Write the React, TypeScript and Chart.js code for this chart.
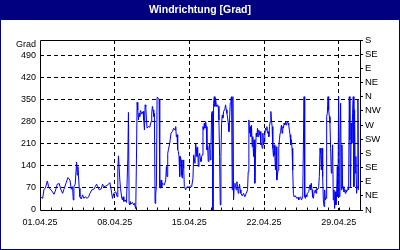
import { useEffect, useRef } from 'react';
import { Chart, registerables } from 'chart.js';

Chart.register(...registerables);

const TITLE = 'Windrichtung [Grad]';
const Y_UNIT = 'Grad';
const FONT = 'Liberation Sans';

const degreeTicks = [0, 70, 140, 210, 280, 350, 420, 490];
const Y_MAX = 540;
const compassTicks = [0, 45, 90, 135, 180, 225, 270, 315, 360, 405, 450, 495, 540];
const compassLabels = ['N', 'NE', 'E', 'SE', 'S', 'SW', 'W', 'NW', 'N', 'NE', 'E', 'SE', 'S'];
const dateTickHours = [0, 168, 336, 504, 672];
const dateTickLabels = ['01.04.25', '08.04.25', '15.04.25', '22.04.25', '29.04.25'];
const X_MAX_HOURS = 720;

// [hours since 01.04.25 00:00, wind direction in degrees]
const week1: [number, number][] = [
  [0, 42], [6, 37], [9, 66], [12, 69], [16.5, 92], [19.5, 74], [22.5, 67], [27, 60], [31.4, 50], [34.4, 60],
  [38.9, 82], [43.4, 84], [46.4, 67], [50.9, 53], [53.9, 66], [58.4, 85], [62.9, 103], [67.4, 95], [70.4, 66], [73.3, 74],
  [74.8, 32], [76.3, 74], [79.3, 82], [82.3, 152], [83.8, 111], [85.3, 138], [88.3, 69], [89.8, 42], [92.8, 35], [95.8, 48],
  [98.8, 37], [101.8, 42], [106.3, 37], [109.3, 42], [112.3, 53], [116.8, 64], [121.2, 66], [124.2, 74], [127.2, 82], [130.2, 74],
  [133.2, 64], [137.7, 67], [140.7, 82], [143.7, 74], [148.2, 76], [152.7, 80], [157.2, 87], [160.2, 64], [163.1, 37], [166.1, 53],
  [170.6, 58], [173.6, 42],
];

const week2: [number, number][] = [
  [175.1, 127], [176.6, 172], [179.6, 95], [181.1, 69], [184.1, 37], [185.6, 32], [187.1, 42], [188.6, 27], [191.6, 32], [194.6, 24],
  [197.6, 164], [199.0, 310], [200.5, 21], [202.0, 16], [203.5, 27], [205.0, 19], [208.0, 24], [211.0, 16], [212.5, 21], [214.0, 11],
  [215.5, 5], [217.0, 159], [218.5, 342], [220.0, 318], [221.5, 286], [223.0, 307], [224.5, 297], [226.0, 316], [229.0, 305], [232.0, 313],
  [233.5, 284], [235.0, 254], [236.5, 334], [238.0, 329], [239.5, 286], [241.0, 260], [244.0, 265], [247.0, 263], [249.9, 281], [251.4, 307],
  [252.9, 329], [254.4, 318], [255.9, 297], [257.4, 307], [258.9, 21], [260.4, 51], [261.9, 74], [263.4, 358], [264.9, 358], [266.4, 355],
  [267.9, 350], [269.4, 74], [270.9, 69], [272.4, 95], [273.9, 74], [275.4, 85], [279.9, 80], [282.9, 95], [284.4, 138], [285.9, 106],
  [287.4, 180], [288.9, 191], [291.9, 212], [294.8, 244], [297.8, 249], [300.8, 260], [303.8, 254], [305.3, 265], [306.8, 233], [308.3, 239],
  [309.8, 191], [311.3, 186], [312.8, 170], [314.3, 106], [315.8, 170], [317.3, 159], [318.8, 111], [320.3, 101], [321.8, 159], [323.3, 132],
  [324.8, 74], [327.8, 64], [329.3, 72], [332.3, 74], [335.3, 72], [338.3, 76], [341.2, 74], [344.2, 101], [345.7, 175], [348.7, 148],
  [350.2, 212], [351.7, 196], [353.2, 170],
];

const week3: [number, number][] = [
  [354.7, 200], [356.2, 138], [357.7, 170], [359.2, 180], [360.7, 164], [362.2, 154], [363.7, 170], [365.2, 175], [366.7, 265], [368.2, 254],
  [369.7, 276], [371.2, 260], [372.7, 281], [374.2, 265], [375.7, 191], [377.2, 201], [378.6, 154], [380.1, 196], [381.6, 212], [383.1, 159],
  [384.6, 191], [386.1, 307], [387.6, 313], [389.1, 0], [390.6, 339], [392.1, 360], [393.6, 329], [395.1, 355], [396.6, 334], [398.1, 329],
  [399.6, 334], [401.1, 329], [402.6, 286], [404.1, 170], [405.6, 16], [407.1, 170], [408.6, 276], [410.1, 302], [411.6, 292], [413.1, 313],
  [414.6, 318], [416.1, 323], [417.6, 334], [419.1, 318], [420.6, 307], [422.1, 292], [423.6, 276], [425.1, 249], [426.5, 286], [428.0, 339],
  [429.5, 355], [431.0, 360], [432.5, 64], [434.0, 360], [435.5, 32], [437.0, 74], [438.5, 85], [440.0, 74], [441.5, 64], [443.0, 90],
  [444.5, 74], [446.0, 53], [447.5, 69], [449.0, 82], [450.5, 64], [452.0, 53], [455.0, 45], [458.0, 53], [461.0, 42], [464.0, 53],
  [467.0, 64], [468.5, 122], [470.0, 286], [471.5, 244], [473.0, 265], [474.4, 233], [475.9, 270], [477.4, 201], [478.9, 233], [480.4, 170],
  [481.9, 223], [483.4, 85], [484.9, 180], [486.4, 244], [487.9, 233], [489.4, 260], [490.9, 233], [492.4, 254], [493.9, 239], [495.4, 249],
  [496.9, 207], [498.4, 212], [499.9, 196], [501.4, 244], [502.9, 207], [504.4, 217], [505.9, 239], [507.4, 260], [508.9, 254], [510.4, 265],
  [511.9, 244], [513.4, 249], [514.9, 233], [516.4, 265], [517.9, 281], [519.4, 313], [520.8, 286], [522.3, 265], [523.8, 196], [525.3, 170],
  [526.8, 207], [528.3, 175], [529.8, 127], [531.3, 201], [532.8, 95],
];

const week4: [number, number][] = [
  [535.7, 127], [537.2, 196], [538.7, 223], [540.2, 244], [541.7, 254], [543.2, 270], [544.7, 244], [546.2, 265], [547.7, 260], [549.2, 276],
  [550.7, 270], [552.2, 279], [553.7, 270], [555.2, 276], [556.7, 281], [558.1, 276], [559.6, 270], [561.1, 254], [562.6, 239], [564.1, 207],
  [565.6, 223], [567.1, 196], [568.6, 127], [570.1, 53], [571.6, 42], [574.6, 45], [577.6, 37], [580.6, 40], [582.1, 32], [583.6, 37],
  [586.6, 42], [588.1, 32], [591.1, 40], [594.1, 360], [595.6, 42], [597.1, 37], [598.6, 48], [600.1, 42], [601.6, 53], [604.6, 58],
  [606.0, 69], [607.5, 80], [609.0, 64], [610.5, 85], [612.0, 64], [613.5, 42], [615.0, 37], [616.5, 53], [619.5, 64], [621.0, 53],
  [622.5, 69], [624.0, 64], [625.5, 69], [627.0, 74], [628.5, 106], [630.0, 196], [631.5, 180], [633.0, 127], [634.5, 196], [636.0, 106],
  [637.5, 32], [639.0, 11], [640.5, 64], [642.0, 32], [643.5, 37], [645.0, 297], [646.5, 307], [648.0, 360], [649.5, 318], [651.0, 297],
  [652.4, 276], [653.9, 196], [655.4, 117], [656.9, 154], [658.4, 207], [659.9, 32], [661.4, 64], [662.9, 5], [664.4, 58], [665.9, 16],
  [667.4, 53], [668.9, 138], [670.4, 42], [671.9, 360], [673.4, 42], [674.9, 207], [676.4, 339], [677.9, 64], [679.4, 207], [680.9, 69],
  [682.4, 74], [683.9, 58], [685.4, 64], [686.9, 53], [688.4, 64], [689.9, 58], [691.4, 64], [692.9, 74], [694.4, 64], [695.9, 360],
  [697.4, 223], [698.8, 74], [700.3, 276], [701.8, 212], [703.3, 307], [704.8, 360], [706.3, 74], [707.8, 318], [709.3, 117], [710.8, 170],
  [712.3, 53], [713.8, 74], [715.3, 350], [716.8, 64],
];

const readings = [...week1, ...week2, ...week3, ...week4];

const framePlugin = {
  id: 'frame',
  beforeDraw(chart: any) {
    const { ctx, width, height } = chart;
    ctx.save();
    ctx.fillStyle = '#ffffff';
    ctx.fillRect(0, 0, width, height);
    ctx.fillStyle = '#000080';
    ctx.fillRect(0, 0, width, 20);
    ctx.strokeStyle = '#000080';
    ctx.lineWidth = 1;
    ctx.strokeRect(0.5, 0.5, width - 1, height - 1);
    ctx.restore();
  },
  afterDraw(chart: any) {
    const { ctx, chartArea: a } = chart;
    const xs = chart.scales.x;
    const l = Math.round(a.left) + 0.5;
    const r = Math.round(a.right) + 0.5;
    const t = Math.round(a.top) + 0.5;
    const b = Math.round(a.bottom) + 0.5;
    ctx.save();
    ctx.strokeStyle = '#000000';
    ctx.lineWidth = 1;
    ctx.setLineDash([]);
    ctx.beginPath();
    ctx.moveTo(l, t);
    ctx.lineTo(r, t);
    ctx.lineTo(r, b);
    ctx.lineTo(l, b);
    ctx.closePath();
    ctx.stroke();
    // daily minor ticks, pointing inward
    ctx.beginPath();
    for (let h = 24; h < X_MAX_HOURS; h += 24) {
      const px = Math.round(xs.getPixelForValue(h)) + 0.5;
      ctx.moveTo(px, b);
      ctx.lineTo(px, b - 3);
    }
    ctx.stroke();
    ctx.fillStyle = '#000000';
    ctx.font = `9px "${FONT}"`;
    ctx.textAlign = 'right';
    ctx.textBaseline = 'middle';
    ctx.fillText(Y_UNIT, a.left - 4, a.top + 5);
    ctx.restore();
  },
};

export default function App() {
  const ref = useRef<HTMLCanvasElement | null>(null);

  useEffect(() => {
    document.body.style.margin = '0';
    const canvas = ref.current;
    if (!canvas) return;
    const dash = [4, 3];
    const chart = new Chart(canvas, {
      type: 'line',
      data: {
        datasets: [
          {
            data: readings.map(([x, y]) => ({ x, y })),
            borderColor: '#0000ff',
            borderWidth: 1,
            pointRadius: 0,
            tension: 0,
            fill: false,
          },
        ],
      },
      options: {
        animation: false,
        responsive: false,
        devicePixelRatio: 1,
        layout: { padding: 0 },
        plugins: {
          legend: { display: false },
          tooltip: { enabled: false },
          title: {
            display: true,
            text: TITLE,
            color: '#ffffff',
            font: { family: FONT, size: 10.5, weight: 'bold' },
            padding: { top: 3.5, bottom: 23.9 },
          },
        },
        scales: {
          x: {
            type: 'linear',
            min: 0,
            max: X_MAX_HOURS,
            afterBuildTicks: (s: any) => {
              s.ticks = dateTickHours.map((v) => ({ value: v }));
            },
            afterFit: (s: any) => {
              s.height = 40;
            },
            ticks: {
              autoSkip: false,
              maxRotation: 0,
              padding: 7,
              color: '#000000',
              font: { family: FONT, size: 9 },
              callback: (v: any) => {
                const i = dateTickHours.indexOf(Number(v));
                return i >= 0 ? dateTickLabels[i] : '';
              },
            },
            grid: {
              drawTicks: false,
              color: (c: any) => (c.tick && c.tick.value > 0 ? '#000000' : 'rgba(0,0,0,0)'),
              lineWidth: 1,
            },
            border: { display: false, dash },
          },
          y: {
            type: 'linear',
            position: 'left',
            min: 0,
            max: Y_MAX,
            afterBuildTicks: (s: any) => {
              s.ticks = [...degreeTicks, Y_MAX].map((v) => ({ value: v }));
            },
            afterFit: (s: any) => {
              s.width = 40;
            },
            ticks: {
              autoSkip: false,
              padding: 4,
              color: '#000000',
              font: { family: FONT, size: 9 },
              callback: (v: any) => (degreeTicks.includes(Number(v)) ? String(v) : ''),
            },
            grid: {
              drawTicks: false,
              color: (c: any) =>
                c.tick && c.tick.value > 0 && c.tick.value < Y_MAX ? '#000000' : 'rgba(0,0,0,0)',
              lineWidth: 1,
            },
            border: { display: false, dash },
          },
          compass: {
            type: 'linear',
            position: 'right',
            min: 0,
            max: Y_MAX,
            afterBuildTicks: (s: any) => {
              s.ticks = compassTicks.map((v) => ({ value: v }));
            },
            afterFit: (s: any) => {
              s.width = 40;
            },
            ticks: {
              autoSkip: false,
              padding: 2,
              color: '#000000',
              font: { family: FONT, size: 9.5 },
              callback: (v: any) => {
                const i = compassTicks.indexOf(Number(v));
                return i >= 0 ? compassLabels[i] : '';
              },
            },
            grid: {
              drawOnChartArea: false,
              drawTicks: true,
              tickLength: 3,
              tickColor: '#000000',
            },
            border: { display: false },
          },
        },
      },
      plugins: [framePlugin],
    } as any);
    return () => chart.destroy();
  }, []);

  return (
    <div style={{ width: 400, height: 250 }}>
      <canvas ref={ref} width={400} height={250} style={{ display: 'block' }} />
    </div>
  );
}
